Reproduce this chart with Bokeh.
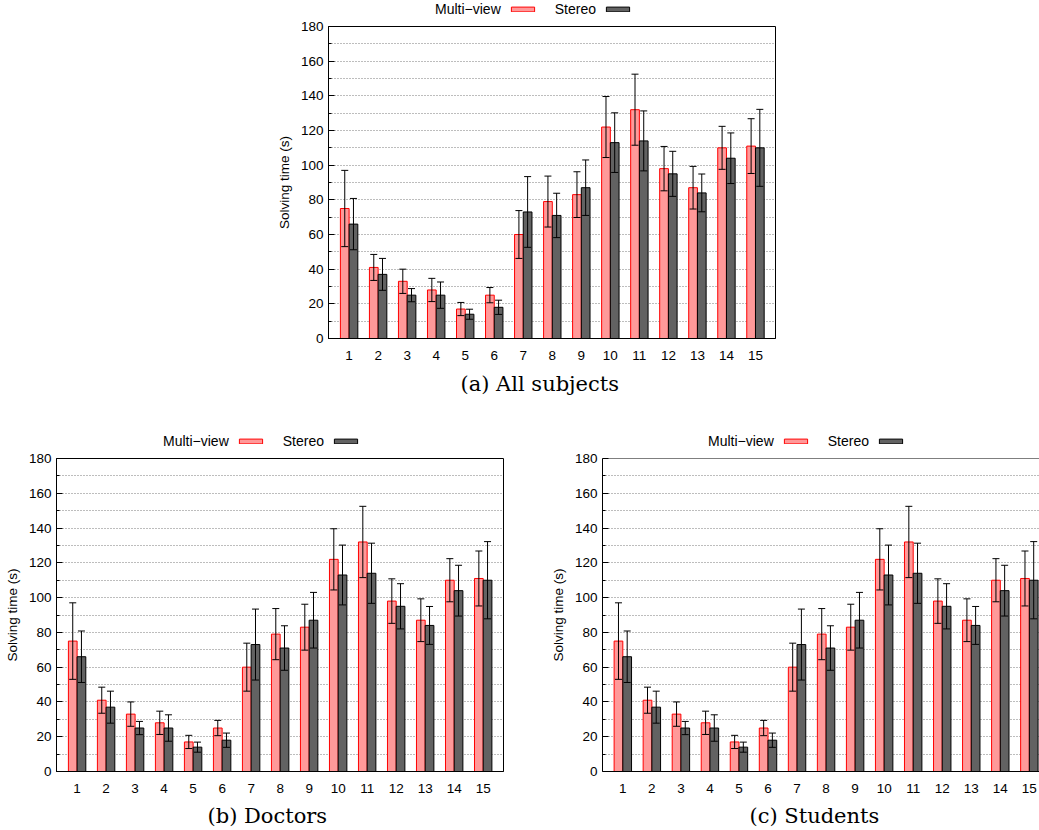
from bokeh.plotting import figure
from bokeh.models import (ColumnDataSource, FixedTicker, Whisker, TeeHead, Span,
                          Spacer, Range1d, Legend, LegendItem, Label)
from bokeh.layouts import column, row
from bokeh.embed import file_html
from bokeh.resources import INLINE

# Mean solving time per task (s) and standard deviation, per display mode
tasks = list(range(1, 16))
multiview_mean = [75, 41, 33, 28, 17, 25, 60, 79, 83, 122, 132, 98, 87, 110, 111]
multiview_sd = [22, 7.5, 7, 6.7, 3.8, 4.4, 13.8, 14.7, 13.2, 17.6, 20.5, 12.8, 12.3, 12.4, 15.8]
stereo_mean = [66, 37, 25, 25, 14, 18, 73, 71, 87, 113, 114, 95, 84, 104, 110]
stereo_sd = [14.8, 9.2, 3.8, 7.6, 2.9, 4.1, 20.4, 12.8, 16, 17.2, 17.3, 13, 10.9, 14.6, 22.2]

series_names = ["Multi\u2212view", "Stereo"]
y_major = list(range(0, 181, 20))
y_minor = list(range(10, 180, 20))
captions = ["(a) All subjects", "(b) Doctors", "(c) Students"]
y_title = "Solving time (s)"

SANS = "Liberation Sans"
SERIF = "DejaVu Serif"
MV_FILL, MV_LINE = "#ff9999", "#ff0000"
ST_FILL, ST_LINE = "#626262", "#000000"
BAR_W = 0.3
MV_STYLE = dict(fill_color=MV_FILL, line_color=MV_LINE, line_width=1)
ST_STYLE = dict(fill_color=ST_FILL, line_color=ST_LINE, line_width=1)


def make_source():
    return ColumnDataSource(dict(
        task=tasks,
        x_mv=[t - BAR_W / 2 for t in tasks],
        x_st=[t + BAR_W / 2 for t in tasks],
        mv=multiview_mean,
        mv_lo=[m - s for m, s in zip(multiview_mean, multiview_sd)],
        mv_hi=[m + s for m, s in zip(multiview_mean, multiview_sd)],
        st=stereo_mean,
        st_lo=[m - s for m, s in zip(stereo_mean, stereo_sd)],
        st_hi=[m + s for m, s in zip(stereo_mean, stereo_sd)],
    ))


def bare(width, height, x_range):
    """A strip with no axes, used for the key and the caption."""
    f = figure(width=width, height=height, toolbar_location=None, output_backend="svg",
               x_axis_location=None, y_axis_location=None,
               x_range=x_range, y_range=Range1d(0, 1),
               min_border_left=0, min_border_right=0, min_border_top=0,
               min_border_bottom=0)
    f.outline_line_color = None
    f.grid.visible = False
    f.background_fill_color = "white"
    f.border_fill_color = "white"
    return f


def key_strip(width, height, x0):
    # the key shows each name followed by its swatch; the bar renderers here are
    # zero-sized and outside the strip's x range, so only their legend is seen
    k = bare(width, height, Range1d(-1, 0))
    src = make_source()
    blank = k.vbar(x="task", width=0, top=0, source=src, fill_alpha=0, line_alpha=0)
    mv = k.vbar(x="task", width=0, top=0, source=src, **MV_STYLE)
    st = k.vbar(x="task", width=0, top=0, source=src, **ST_STYLE)
    key = Legend(items=[LegendItem(label=series_names[0], renderers=[blank]),
                        LegendItem(label=series_names[1], renderers=[mv]),
                        LegendItem(label="", renderers=[st])],
                 orientation="horizontal", location=(x0, 1),
                 glyph_width=29, glyph_height=6, label_standoff=18, spacing=7,
                 label_width=0, padding=0, margin=0,
                 label_text_font=SANS, label_text_font_size="14px",
                 label_text_color="black",
                 border_line_color=None, background_fill_alpha=0)
    k.add_layout(key)
    return k


def caption_strip(width, height, text, x0, y0):
    c = bare(width, height, Range1d(0, 1))
    c.add_layout(Label(x=x0, y=y0, x_units="screen", y_units="screen", text=text,
                       text_font=SERIF, text_font_size="21px", text_color="black",
                       text_align="left", text_baseline="middle"))
    return c


def chart(width, height, left, right, x_start, x_end, boxed=True):
    p = figure(width=width, height=height,
               x_range=Range1d(x_start, x_end), y_range=Range1d(0, 180),
               min_border_left=left, min_border_right=right,
               min_border_top=8, min_border_bottom=28,
               toolbar_location=None, output_backend="svg")
    p.background_fill_color = "white"
    p.border_fill_color = "white"
    if boxed:
        p.outline_line_color = "black"
        p.outline_line_alpha = 1.0
        p.outline_line_width = 1
    else:
        p.outline_line_color = None
        p.add_layout(Span(location=180, dimension="width", line_color="black", line_width=1))

    src = make_source()
    p.vbar(x="x_mv", width=BAR_W, top="mv", bottom=0, source=src, **MV_STYLE)
    p.vbar(x="x_st", width=BAR_W, top="st", bottom=0, source=src, **ST_STYLE)
    for base, lo, hi in (("x_mv", "mv_lo", "mv_hi"), ("x_st", "st_lo", "st_hi")):
        p.add_layout(Whisker(source=src, base=base, lower=lo, upper=hi,
                             line_color="black", line_width=1, level="overlay",
                             upper_head=TeeHead(size=7, line_color="black", line_width=1),
                             lower_head=TeeHead(size=7, line_color="black", line_width=1)))

    p.xaxis.ticker = FixedTicker(ticks=tasks)
    p.xaxis.minor_tick_line_color = None
    p.xaxis.major_label_standoff = 6
    p.yaxis.ticker = FixedTicker(ticks=y_major, minor_ticks=y_minor)
    p.yaxis.major_tick_in = 6
    p.yaxis.major_tick_out = 0
    p.yaxis.minor_tick_in = 3
    p.yaxis.minor_tick_out = 0
    p.yaxis.major_label_standoff = 5
    p.yaxis.axis_label = y_title
    p.yaxis.axis_label_standoff = 6
    p.yaxis.axis_label_text_font_style = "normal"
    for ax in (p.xaxis, p.yaxis):
        ax.axis_line_color = "black"
        ax.major_label_text_font = SANS
        ax.major_label_text_font_size = "13.5px"
        ax.major_label_text_color = "black"
        ax.axis_label_text_font = SANS
        ax.axis_label_text_font_size = "13.5px"
        ax.axis_label_text_color = "black"
    p.xaxis.major_tick_line_color = None
    p.yaxis.major_tick_line_color = "black"

    # dotted horizontal grid at every 10 s
    p.xgrid.grid_line_color = None
    p.ygrid.grid_line_color = "#7a7a7a"
    p.ygrid.grid_line_dash = "1 2"
    p.ygrid.minor_grid_line_color = "#7a7a7a"
    p.ygrid.minor_grid_line_dash = "1 2"
    return p


# (a) all subjects: frame 447 x 312
panel_a = column(key_strip(520, 18, 60),
                 chart(520, 348, 58, 15, 0.29, 15.69),
                 caption_strip(520, 54, captions[0], 132, 37))
# (b) doctors and (c) students: frame 447 x 313 (c runs off the right edge)
panel_b = column(key_strip(520, 30, 60),
                 chart(520, 349, 56, 17, 0.29, 15.70),
                 caption_strip(520, 31, captions[1], 151, 15))
panel_c = column(key_strip(519, 30, 59),
                 chart(519, 349, 82, 0, 0.30, 15.35, boxed=False),
                 caption_strip(519, 31, captions[2], 147, 15))

layout = column(row(Spacer(width=270, height=420), panel_a), row(panel_b, panel_c))

open("out.html", "w").write(file_html(layout, INLINE))
